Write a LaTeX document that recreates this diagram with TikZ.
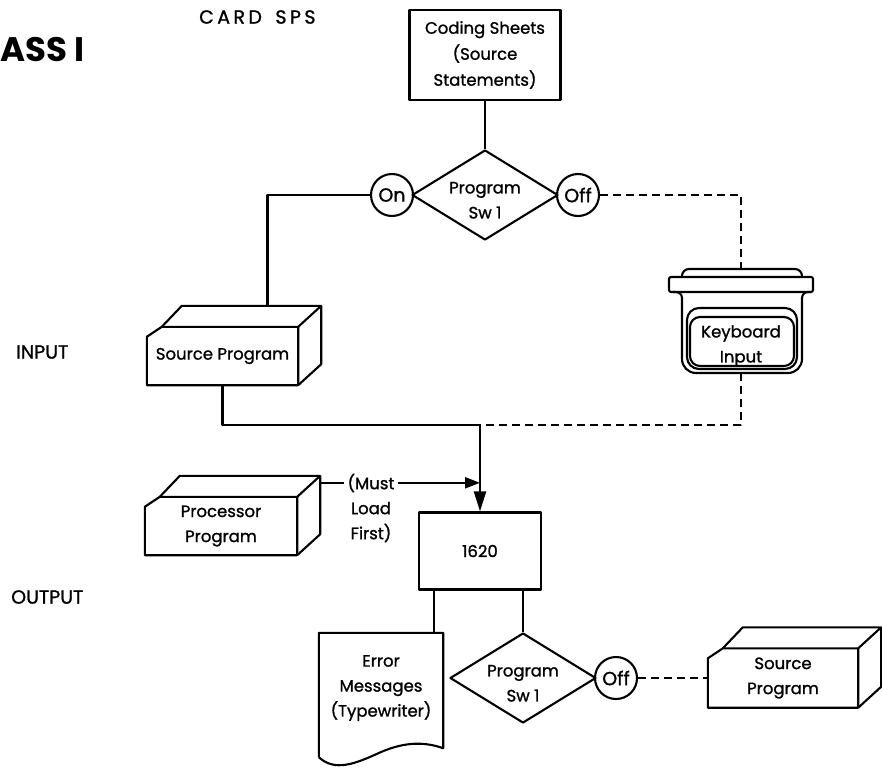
\documentclass[tikz,border=0pt]{standalone}
\usepackage{fontspec}
\setmainfont{Poppins}[UprightFeatures={FakeBold=1.2}]
\usetikzlibrary{shapes.geometric,arrows.meta}

% card deck outline round the front face of a node
\newcommand{\deckbox}[1]{%
  \draw[outline] ([yshift=-10pt]#1.north west) -- ([xshift=15pt]#1.north west)
    -- (#1.north east) -- (#1.south east) -- (#1.south west) -- cycle;
  \draw[outline] ([xshift=15pt]#1.north west) -- ++(20,-21)
    -| ([xshift=23pt,yshift=21pt]#1.south east) -- (#1.south east)
    (#1.north east) -- ++(23,-21);}

\begin{document}
\begin{tikzpicture}[x=1pt,y=-1pt,line join=round,
  every node/.style={font=\fontsize{16.5}{25}\selectfont},
  outline/.style={line width=2.1pt},
  flow/.style={line width=2.1pt},
  dashline/.style={line width=2.1pt,dash pattern=on 8pt off 5pt},
  box/.style={draw,outline,align=center,inner sep=0pt},
  deck/.style={align=center,inner sep=0pt},
  switch/.style={diamond,draw,outline,align=center,inner sep=-6pt,aspect=1.6,
    minimum width=146pt,minimum height=90pt},
  state/.style={circle,draw,outline,inner sep=0pt,minimum size=42pt,
    font=\fontsize{19}{25}\selectfont},
  side label/.style={anchor=west,inner sep=0pt,font=\fontsize{19}{25}\selectfont}]
  \useasboundingbox (0,0) rectangle (882,771);

  \node[side label,font=\fontsize{34}{40}\selectfont\bfseries] (pass) at (0,50) {ASS I};
  \node[side label] (card) at (199,17) {\addfontfeature{LetterSpace=18}CARD\hspace{5pt} SPS};
  \node[side label] (input) at (16,352) {INPUT};
  \node[side label] (output) at (11,597) {OUTPUT};

  \node[box,minimum width=151pt,minimum height=90pt,font=\fontsize{16.5}{26}\selectfont] (coding) at (485,55) {Coding Sheets\\(Source\\Statements)};
  \node[switch] (sw1) at (485,195) {\rule{0pt}{22pt}Program\\Sw 1};
  \node[state] (on) at (392,195) {On};
  \node[state] (off) at (578,195) {Off};

  \node[deck,minimum width=151pt,minimum height=58pt] (src) at (222.5,356) {Source Program};
  \node[align=center,inner sep=0pt,minimum width=110pt,minimum height=61pt] (kbd) at (741,346) {Keyboard\\Input};
  \node[deck,minimum width=152pt,minimum height=58pt] (proc) at (221,526) {Processor\\Program};
  \node[box,minimum width=122pt,minimum height=77pt] (cpu) at (480,551) {1620};
  \node[align=center,inner sep=3pt] (must) at (371,508) {(Must\\Load\\First)};

  \node[align=center,inner sep=0pt,minimum width=124pt,minimum height=110pt] (errmsg) at (381,688) {Error\\Messages\\(Typewriter)};
  \node[switch] (sw2) at (523,678) {\rule{0pt}{22pt}Program\\Sw 1};
  \node[state] (off2) at (616,678) {Off};
  \node[deck,minimum width=150pt,minimum height=59pt] (src2) at (783,678) {Source\\Program};

  \deckbox{src}
  \deckbox{proc}
  \deckbox{src2}

  % keyboard
  \begin{scope}[shift={(kbd.center)}]
    \draw[outline,rounded corners=7pt] (-59,-69) -- (-59,-77) -- (61,-77) -- (61,-69);
    \draw[outline,rounded corners=2pt] (-72,-69) rectangle (72,-54);
    \draw[outline,rounded corners=6pt] (-68,-54) -- (-59,-54) -- (-59,-27)
      [rounded corners=14pt] -- (-59,27) -- (61,27) -- (61,-27)
      [rounded corners=6pt] -- (61,-54) -- (70,-54);
    \draw[outline,rounded corners=12pt] (-54,-38) rectangle (56,23);
    \draw[outline,rounded corners=10pt] (-51,-29) rectangle (53,20);
    \coordinate (kbdtop) at (0,-77);
    \coordinate (kbdbot) at (0,27);
  \end{scope}

  % typewriter sheet
  \draw[outline] ([yshift=-14pt]errmsg.south west) -- (errmsg.north west) -- (errmsg.north east)
    -- ([yshift=-5pt]errmsg.south east) .. controls (420,740) and (400,744) .. (381,752)
    .. controls (355,764) and (335,772) .. ([yshift=-14pt]errmsg.south west);

  \coordinate (merge) at (480,425);
  \coordinate (procout) at ([xshift=23pt,yshift=14pt]proc.north east);
  \coordinate (tap) at (merge |- procout);

  \draw[flow] (coding) -- (sw1);
  \draw[flow] (on) -| ([xshift=45pt,yshift=21pt]src.north);
  \draw[dashline] (off) -| (kbdtop);
  \draw[flow] (src) |- (merge);
  \draw[dashline] (kbdbot) |- (merge);
  \draw[flow,-{Triangle[length=20pt,width=12pt]}] (merge) -- (cpu);
  \draw[flow] (procout) -- (procout -| must.west);
  \draw[flow,-{Triangle[length=15pt,width=11pt]}] (procout -| must.east) -- (tap);
  \draw[flow] ([xshift=-46pt]cpu.south) -- ([xshift=-46pt]cpu.south |- errmsg.north);
  \draw[flow] (cpu.south -| sw2.north) -- (sw2.north);
  \draw[dashline] (off2) -- (src2);
\end{tikzpicture}
\end{document}
